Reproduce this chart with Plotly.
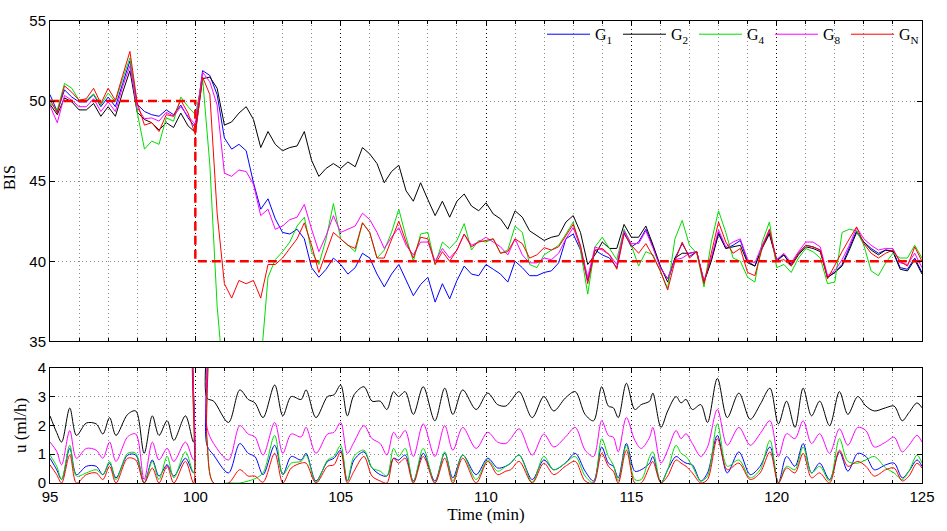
import plotly.graph_objects as go

# ---------------- top panel: BIS ----------------
t_bis = [95.0, 95.25, 95.5, 95.75, 96.0, 96.25, 96.5, 96.75, 97.0, 97.25, 97.5, 97.75,
         98.0, 98.25, 98.5, 98.75, 99.0, 99.25, 99.5, 99.75, 100.0, 100.25, 100.5, 100.75,
         101.0, 101.25, 101.5, 101.75, 102.0, 102.25, 102.5, 102.75, 103.0, 103.25, 103.5, 103.75,
         104.0, 104.25, 104.5, 104.75, 105.0, 105.25, 105.5, 105.75, 106.0, 106.25, 106.5, 106.75,
         107.0, 107.25, 107.5, 107.75, 108.0, 108.25, 108.5, 108.75, 109.0, 109.25, 109.5, 109.75,
         110.0, 110.25, 110.5, 110.75, 111.0, 111.25, 111.5, 111.75, 112.0, 112.25, 112.5, 112.75,
         113.0, 113.25, 113.5, 113.75, 114.0, 114.25, 114.5, 114.75, 115.0, 115.25, 115.5, 115.75,
         116.0, 116.25, 116.5, 116.75, 117.0, 117.25, 117.5, 117.75, 118.0, 118.25, 118.5, 118.75,
         119.0, 119.25, 119.5, 119.75, 120.0, 120.25, 120.5, 120.75, 121.0, 121.25, 121.5, 121.75,
         122.0, 122.25, 122.5, 122.75, 123.0, 123.25, 123.5, 123.75, 124.0, 124.25, 124.5, 124.75,
         125.0]

bis_g1 = [50.4, 49.35, 50.7, 50.25, 49.95, 49.95, 50.4, 49.65, 50.25, 49.65, 51.1, 52.5,
          49.8, 49.35, 49.15, 49.05, 49.45, 49.15, 49.75, 48.95, 48.35, 51.9, 51.6, 50.4,
          47.7, 47.0, 47.3, 46.9, 44.9, 43.25, 43.9, 42.65, 41.8, 41.7, 42.0, 41.4,
          39.6, 39.0, 39.5, 40.2, 39.8, 39.2, 39.6, 40.5, 40.2, 39.2, 38.4, 39.2,
          39.8, 38.8, 37.85, 38.55, 39.0, 37.45, 38.6, 37.65, 38.8, 39.7, 39.2, 39.1,
          39.8, 39.5, 39.2, 38.7, 40.0, 39.6, 39.1, 39.1, 39.3, 39.4, 39.9, 41.4,
          41.7, 40.7, 38.8, 40.7, 40.4, 40.2, 39.6, 41.8, 40.9, 41.2, 42.0, 40.9,
          39.6, 38.9, 40.2, 41.1, 40.3, 40.6, 38.7, 40.1, 41.8, 40.8, 41.0, 41.3,
          40.0, 39.7, 40.9, 41.8, 40.1, 40.4, 39.8, 40.5, 41.0, 40.9, 40.7, 39.0,
          39.3, 39.8, 40.8, 41.9, 41.2, 40.8, 40.5, 40.7, 40.65, 39.6, 39.5, 40.2,
          39.3]

bis_g2 = [49.8, 49.15, 50.2, 49.95, 49.45, 49.45, 49.85, 49.05, 49.65, 49.05, 50.55, 51.9,
          49.3, 48.85, 48.65, 48.2, 48.65, 48.35, 49.25, 48.45, 48.05, 51.4, 51.5, 50.8,
          48.5, 48.7, 49.25, 49.65, 48.85, 47.1, 48.1, 47.3, 46.9, 47.1, 47.2, 48.1,
          46.3, 45.3, 45.8, 46.1, 45.8, 46.2, 45.9, 47.1, 46.7, 46.1, 44.9, 45.6,
          46.0, 44.4, 43.75, 44.9, 43.85, 42.85, 43.75, 42.75, 43.75, 44.2, 43.45, 43.15,
          43.65, 42.95, 42.65, 42.0, 43.15, 42.75, 41.9, 41.6, 41.3, 41.5, 41.6, 42.45,
          42.85, 41.8, 39.8, 40.4, 41.2, 40.8, 40.8, 42.3, 41.5, 41.5, 42.2, 41.0,
          39.7, 38.7, 40.2, 40.5, 40.5, 40.6, 38.7, 40.0, 41.7, 40.8, 40.9, 41.0,
          39.9, 39.7, 40.8, 41.7, 40.0, 40.4, 39.7, 40.4, 40.9, 40.8, 40.6, 39.0,
          39.3, 39.7, 40.7, 41.8, 41.2, 40.7, 40.4, 40.7, 40.6, 39.5, 39.4, 40.1,
          39.2]

bis_g4 = [49.9, 49.45, 51.1, 50.8, 50.05, 50.05, 50.45, 49.75, 50.5, 49.95, 51.4, 52.7,
          49.3, 47.0, 47.5, 47.3, 48.95, 48.75, 50.25, 49.65, 49.15, 51.4, 46.0, 37.2,
          32.0, 30.0, 29.0, 29.5, 31.0, 33.5, 39.0, 40.1, 40.6, 41.2, 42.2, 42.75,
          40.6, 39.8, 41.4, 43.6, 41.4, 41.0, 40.6, 42.4, 41.8, 40.2, 40.7, 41.8,
          43.25, 41.5, 40.0, 41.7, 41.8, 39.8, 41.2, 40.8, 41.3, 42.35, 40.7, 41.3,
          41.2, 41.4, 40.5, 40.7, 42.2, 41.8, 39.8, 39.6, 40.4, 40.7, 41.0, 41.7,
          42.45, 40.7, 37.95, 40.9, 41.5, 40.8, 40.1, 42.0, 41.0, 39.7, 40.6, 40.4,
          39.3, 38.3, 41.4, 42.55, 41.0, 40.5, 38.4, 41.2, 43.15, 41.8, 40.2, 40.0,
          39.0, 38.7, 41.2, 42.45, 39.6, 39.8, 39.3, 40.2, 40.8, 40.6, 40.2, 38.6,
          38.7, 41.8, 42.0, 41.9, 41.0, 39.4, 39.1, 39.9, 40.5, 40.2, 40.2, 41.0,
          40.2]

bis_g8 = [49.7, 48.65, 50.35, 50.05, 49.65, 49.65, 50.15, 49.35, 49.95, 49.35, 50.9, 52.2,
          49.6, 48.9, 48.95, 48.75, 49.3, 49.05, 49.65, 49.05, 48.55, 51.8, 51.2, 49.75,
          45.5, 45.3, 45.7, 45.6, 44.8, 42.85, 43.25, 42.0, 42.2, 42.6, 42.75, 43.55,
          42.0, 40.6, 41.6, 42.85, 41.8, 42.0, 42.2, 43.0, 42.6, 41.8, 40.8, 41.5,
          42.1, 41.0, 40.4, 41.2, 41.2, 40.0, 40.8, 40.2, 40.7, 41.7, 41.0, 41.2,
          41.5, 41.2, 40.9, 40.4, 41.4, 40.4, 39.9, 39.9, 40.2, 40.1, 40.5, 41.4,
          42.1, 40.9, 39.0, 40.9, 40.7, 40.4, 39.8, 41.9, 41.1, 41.1, 41.9, 40.8,
          39.6, 38.9, 40.1, 40.2, 40.5, 40.6, 38.8, 40.2, 41.95, 40.9, 41.2, 41.4,
          40.1, 39.9, 41.0, 41.95, 40.1, 40.5, 39.9, 40.6, 41.2, 41.2, 40.9, 39.1,
          39.4, 40.1, 41.0, 42.1, 41.4, 41.0, 40.7, 40.8, 40.8, 39.9, 39.8, 40.5,
          39.6]

bis_gn = [50.1, 49.25, 50.95, 50.55, 50.05, 50.15, 50.8, 49.85, 50.8, 50.05, 51.6, 53.1,
          49.9, 48.5, 48.65, 48.1, 49.15, 49.05, 50.05, 49.25, 47.9, 51.5, 50.4, 43.0,
          38.6, 37.7, 38.8, 38.6, 38.8, 37.7, 39.8, 39.8, 40.2, 40.8, 41.4, 42.4,
          41.0, 39.3, 40.6, 41.8, 41.4, 41.0, 40.8, 42.4, 41.8, 40.2, 40.2, 41.4,
          42.5, 41.2, 40.2, 41.5, 41.4, 39.8, 40.6, 40.0, 40.7, 41.7, 40.9, 41.2,
          41.3, 41.4, 40.5, 40.6, 41.4, 41.1, 40.2, 40.4, 40.85, 40.7, 40.9, 41.6,
          42.3, 41.0, 38.6, 40.7, 40.8, 40.4, 39.5, 41.7, 41.0, 40.5, 41.1, 40.3,
          39.4, 38.2, 40.0, 41.2, 40.2, 40.6, 38.6, 40.5, 42.45, 41.2, 40.5, 40.8,
          39.3, 39.1, 40.8, 42.0, 40.0, 40.1, 39.7, 40.5, 41.0, 40.9, 40.7, 38.9,
          39.8, 40.6, 41.4, 42.15, 41.1, 40.5, 40.2, 40.5, 40.7, 40.0, 39.7, 40.9,
          40.0]

# setpoint (red dashed)
t_ref = [95.0, 100.0, 100.0, 125.0]
bis_ref = [50.0, 50.0, 40.0, 40.0]

# ---------------- bottom panel: infusion u ----------------
t_u = [95.0, 95.23, 95.40, 95.68, 95.91, 96.25, 96.59, 96.82, 97.05, 97.27, 97.67, 97.95,
       98.24, 98.52, 98.75, 99.03, 99.26, 99.66, 99.94,
       100.02, 100.32,
       100.40, 100.63, 101.14, 101.53, 101.82, 102.05, 102.33, 102.73, 103.01, 103.30, 103.64,
       103.81, 104.15, 104.55, 104.77, 105.00, 105.23, 105.46, 105.80, 106.08, 106.36, 106.59,
       106.82, 106.99, 107.22, 107.50, 107.84, 108.24, 108.58, 108.86, 109.20, 109.66, 110.06,
       110.40, 110.68, 110.85, 111.14, 111.59, 111.99, 112.33, 112.73,
       113.07, 113.41, 113.70, 113.98, 114.21, 114.38, 114.55, 114.83, 115.12, 115.34, 115.63,
       115.74, 116.02, 116.25, 116.54, 116.71, 116.88, 117.10, 117.39, 117.62, 117.96, 118.30,
       118.70, 119.09, 119.43, 119.77, 120.06, 120.34, 120.63, 120.91, 121.20, 121.48, 121.82,
       122.16, 122.45, 122.79, 123.07, 123.36, 123.75, 124.04, 124.32, 124.55, 124.83, 125.0]

u_g1 = [0.86, 0.46, 0.12, 1.2, 0.29, 0.58, 0.58, 0.29, 0.69, 0.18, 0.97, 0.97, 0.0, 0.8, 0.24, 0.63, 0.24, 0.86, 0.35,
        6.0, 6.0,
        1.31, 0.97, 0.35, 1.37, 1.03, 0.92, 0.29, 1.31, 0.29, 0.92, 0.8, 1.03, 0.07, 0.75, 0.86, 1.14, 0.07, 0.8, 1.08,
        0.52, 0.29, 0.24, 0.86, 0.8, 0.97, 0.07, 1.03, 0.07, 1.03, 0.18, 0.97, 0.29, 0.86, 0.52, 0.58, 0.69, 0.97, 0.12,
        0.8, 0.46, 0.69,
        1.03, 0.41, 0.07, 1.25, 0.69, 0.58, 0.18, 1.37, 0.41, 0.46, 0.69, 0.92, 0.01, 0.46, 0.92, 0.8, 0.69, 0.63, 0.07,
        0.35, 1.65, 0.35, 1.08, 0.29, 0.58, 1.25, 0.01, 0.92, 0.58, 1.37, 0.35, 0.69, 0.12, 1.08, 0.41, 1.03, 0.92, 0.46,
        0.63, 0.69, 0.18, 0.41, 0.8, 0.58]

u_g2 = [2.33, 1.75, 1.42, 2.6, 1.65, 2.08, 2.05, 1.7, 2.27, 1.65, 2.38, 2.5, 1.03, 2.33, 1.65, 2.16, 1.48, 2.33, 1.42,
        6.0, 6.0,
        2.95, 2.84, 2.1, 3.23, 2.9, 2.78, 2.27, 3.4, 2.33, 3.0, 2.9, 3.23, 2.27, 3.0, 3.06, 3.4, 2.33, 3.06, 3.34,
        2.84, 2.84, 2.55, 3.17, 3.0, 3.17, 2.38, 3.34, 2.16, 3.29, 2.38, 3.23, 2.55, 3.12, 2.72, 2.67, 2.84, 3.17, 2.27,
        3.0, 2.5, 2.95,
        3.17, 2.38, 2.16, 3.34, 2.67, 2.61, 2.27, 3.46, 2.55, 2.72, 2.84, 3.12, 1.93, 2.5, 3.0, 2.78, 2.9, 2.55, 2.72,
        2.1, 3.63, 2.27, 3.12, 2.21, 2.72, 3.29, 2.05, 2.84, 1.93, 3.29, 2.33, 2.84, 1.99, 3.17, 2.38, 3.0, 2.67, 2.5,
        2.61, 2.67, 2.16, 2.44, 2.78, 2.61]

u_g4 = [0.97, 0.58, 0.12, 1.31, 0.24, 0.35, 0.46, 0.29, 0.75, 0.12, 1.03, 1.03, 0.0, 0.75, 0.12, 0.92, 0.18, 1.08, 0.35,
        6.0, 6.0,
        1.5, 0.0, 0.0, 0.0, 0.07, 0.15, 0.35, 1.65, 0.29, 0.69, 0.75, 0.97, 0.03, 0.8, 0.92, 1.31, 0.07, 0.92, 1.14,
        0.52, 0.41, 0.24, 1.2, 0.92, 1.2, 0.03, 1.2, 0.0, 1.08, 0.07, 0.97, 0.12, 0.8, 0.41, 0.58, 0.69, 0.97, 0.03,
        0.92, 0.46, 0.69,
        0.92, 0.24, 0.01, 1.54, 0.92, 0.63, 0.07, 1.31, 0.12, 0.12, 0.92, 1.08, 0.01, 0.46, 1.31, 1.03, 0.92, 0.58, 0.07,
        0.24, 2.05, 0.58, 0.8, 0.18, 0.46, 1.48, 0.01, 0.58, 0.46, 1.25, 0.35, 0.58, 0.07, 1.54, 0.75, 0.69, 0.8, 0.92,
        0.52, 0.35, 0.12, 0.41, 0.97, 0.69]

u_g8 = [1.42, 1.1, 0.63, 1.82, 0.86, 1.2, 1.14, 0.86, 1.42, 0.75, 1.6, 1.7, 0.12, 1.42, 0.8, 1.2, 0.75, 1.42, 0.8,
        6.0, 6.0,
        1.93, 1.37, 0.8, 1.99, 1.7, 1.6, 0.97, 2.1, 1.03, 1.7, 1.6, 1.93, 1.03, 1.7, 1.76, 2.1, 1.03, 1.42, 1.99,
        1.54, 1.37, 0.97, 1.76, 1.54, 1.82, 0.92, 2.05, 0.92, 1.99, 1.14, 1.93, 1.2, 1.76, 1.42, 1.37, 1.54, 1.88, 0.97,
        1.7, 1.25, 1.59,
        1.93, 1.14, 0.92, 2.16, 1.65, 1.59, 1.08, 2.27, 1.48, 1.2, 1.59, 1.93, 0.69, 1.14, 1.82, 1.54, 1.71, 1.37, 0.92,
        1.25, 2.55, 1.31, 1.93, 1.31, 1.71, 2.16, 0.92, 1.71, 1.54, 2.16, 1.37, 1.71, 1.03, 1.88, 1.31, 1.93, 1.82, 1.25,
        1.42, 1.59, 1.08, 1.31, 1.65, 1.42]

u_gn = [0.63, 0.29, 0.0, 0.97, 0.0, 0.29, 0.35, 0.12, 0.58, 0.0, 0.86, 0.8, 0.0, 0.52, 0.0, 0.58, 0.0, 0.75, 0.0,
        6.0, 6.0,
        1.5, 0.0, 0.0, 0.46, 0.24, 0.24, 0.03, 1.03, 0.0, 0.52, 0.69, 0.69, 0.0, 0.58, 0.63, 1.08, 0.0, 0.41, 0.92,
        0.24, 0.07, 0.0, 0.86, 0.69, 0.86, 0.0, 0.92, 0.0, 0.86, 0.0, 0.86, 0.0, 0.75, 0.29, 0.41, 0.46, 0.75, 0.0,
        0.69, 0.29, 0.58,
        0.75, 0.07, 0.0, 1.03, 0.58, 0.41, 0.0, 1.14, 0.0, 0.0, 0.58, 0.75, 0.0, 0.24, 0.8, 0.69, 0.58, 0.35, 0.0,
        0.12, 1.54, 0.46, 0.69, 0.12, 0.35, 1.08, 0.0, 0.52, 0.35, 1.03, 0.18, 0.35, 0.0, 1.14, 0.58, 0.75, 0.58, 0.24,
        0.46, 0.52, 0.07, 0.24, 0.69, 0.52]

names = ["G<sub>1</sub>", "G<sub>2</sub>", "G<sub>4</sub>", "G<sub>8</sub>", "G<sub>N</sub>"]
colors = ["#0000ff", "#000000", "#00dd00", "#ff00ff", "#ff0000"]
bis_series = [bis_g1, bis_g2, bis_g4, bis_g8, bis_gn]
u_series = [u_g1, u_g2, u_g4, u_g8, u_gn]

fig = go.Figure()
for nm, col, yb in zip(names, colors, bis_series):
    fig.add_trace(go.Scatter(x=t_bis, y=yb, mode="lines", name=nm, legendgroup=nm,
                             line=dict(color=col, width=1), xaxis="x", yaxis="y"))
fig.add_trace(go.Scatter(x=t_ref, y=bis_ref, mode="lines", showlegend=False,
                         line=dict(color="#ff0000", width=2.5, dash="9px,5px"), xaxis="x", yaxis="y"))
for nm, col, yu in zip(names, colors, u_series):
    fig.add_trace(go.Scatter(x=t_u, y=yu, mode="lines", name=nm, legendgroup=nm, showlegend=False,
                             line=dict(color=col, width=1, shape="spline", smoothing=0.9),
                             xaxis="x2", yaxis="y2"))

tickfont = dict(family="Liberation Sans, Arial, sans-serif", size=15, color="black")
serif = "Liberation Serif, Times New Roman, serif"

common_x = dict(range=[95, 125], dtick=5, tick0=95, ticks="inside", ticklen=5, tickcolor="black",
                showline=True, linecolor="black", linewidth=1, mirror="allticks",
                showgrid=True, gridcolor="#000000", griddash="1px,3px", gridwidth=1,
                minor=dict(dtick=1, showgrid=True, gridcolor="#8a8a8a", griddash="1px,3px",
                           ticks="inside", ticklen=3, tickcolor="black"),
                zeroline=False, tickfont=tickfont)
common_y = dict(ticks="inside", ticklen=5, tickcolor="black", showline=True, linecolor="black",
                linewidth=1, mirror="allticks", showgrid=True, gridcolor="#8a8a8a",
                griddash="1px,3px", gridwidth=1, zeroline=False, tickfont=tickfont)

fig.update_layout(
    width=947, height=531,
    margin=dict(l=50, r=17, t=14, b=44),
    paper_bgcolor="white", plot_bgcolor="white",
    xaxis=dict(domain=[0, 1], anchor="y", showticklabels=False, matches="x2", **common_x),
    yaxis=dict(domain=[0.3066, 1], anchor="x", range=[35, 55], dtick=5, **common_y),
    xaxis2=dict(domain=[0, 1], anchor="y2",
                title=dict(text="Time (min)", font=dict(family=serif, size=17, color="black"), standoff=2),
                **common_x),
    yaxis2=dict(domain=[0, 0.2495], anchor="x2", range=[0, 4], dtick=1,
                title=dict(text="u (ml/h)", font=dict(family=serif, size=17, color="black"), standoff=6),
                **common_y),
    legend=dict(orientation="h", x=1.0, xanchor="right", y=1.008, yanchor="top",
                bgcolor="rgba(0,0,0,0)", font=dict(family=serif, size=16, color="black"),
                itemwidth=43, entrywidth=18, entrywidthmode="pixels"),
    showlegend=True,
)

fig.add_annotation(text="BIS", xref="paper", yref="paper", x=-0.047, y=0.66,
                   xanchor="center", yanchor="middle", textangle=-90, showarrow=False,
                   font=dict(family=serif, size=16, color="black"))

fig.write_html("out.html")
